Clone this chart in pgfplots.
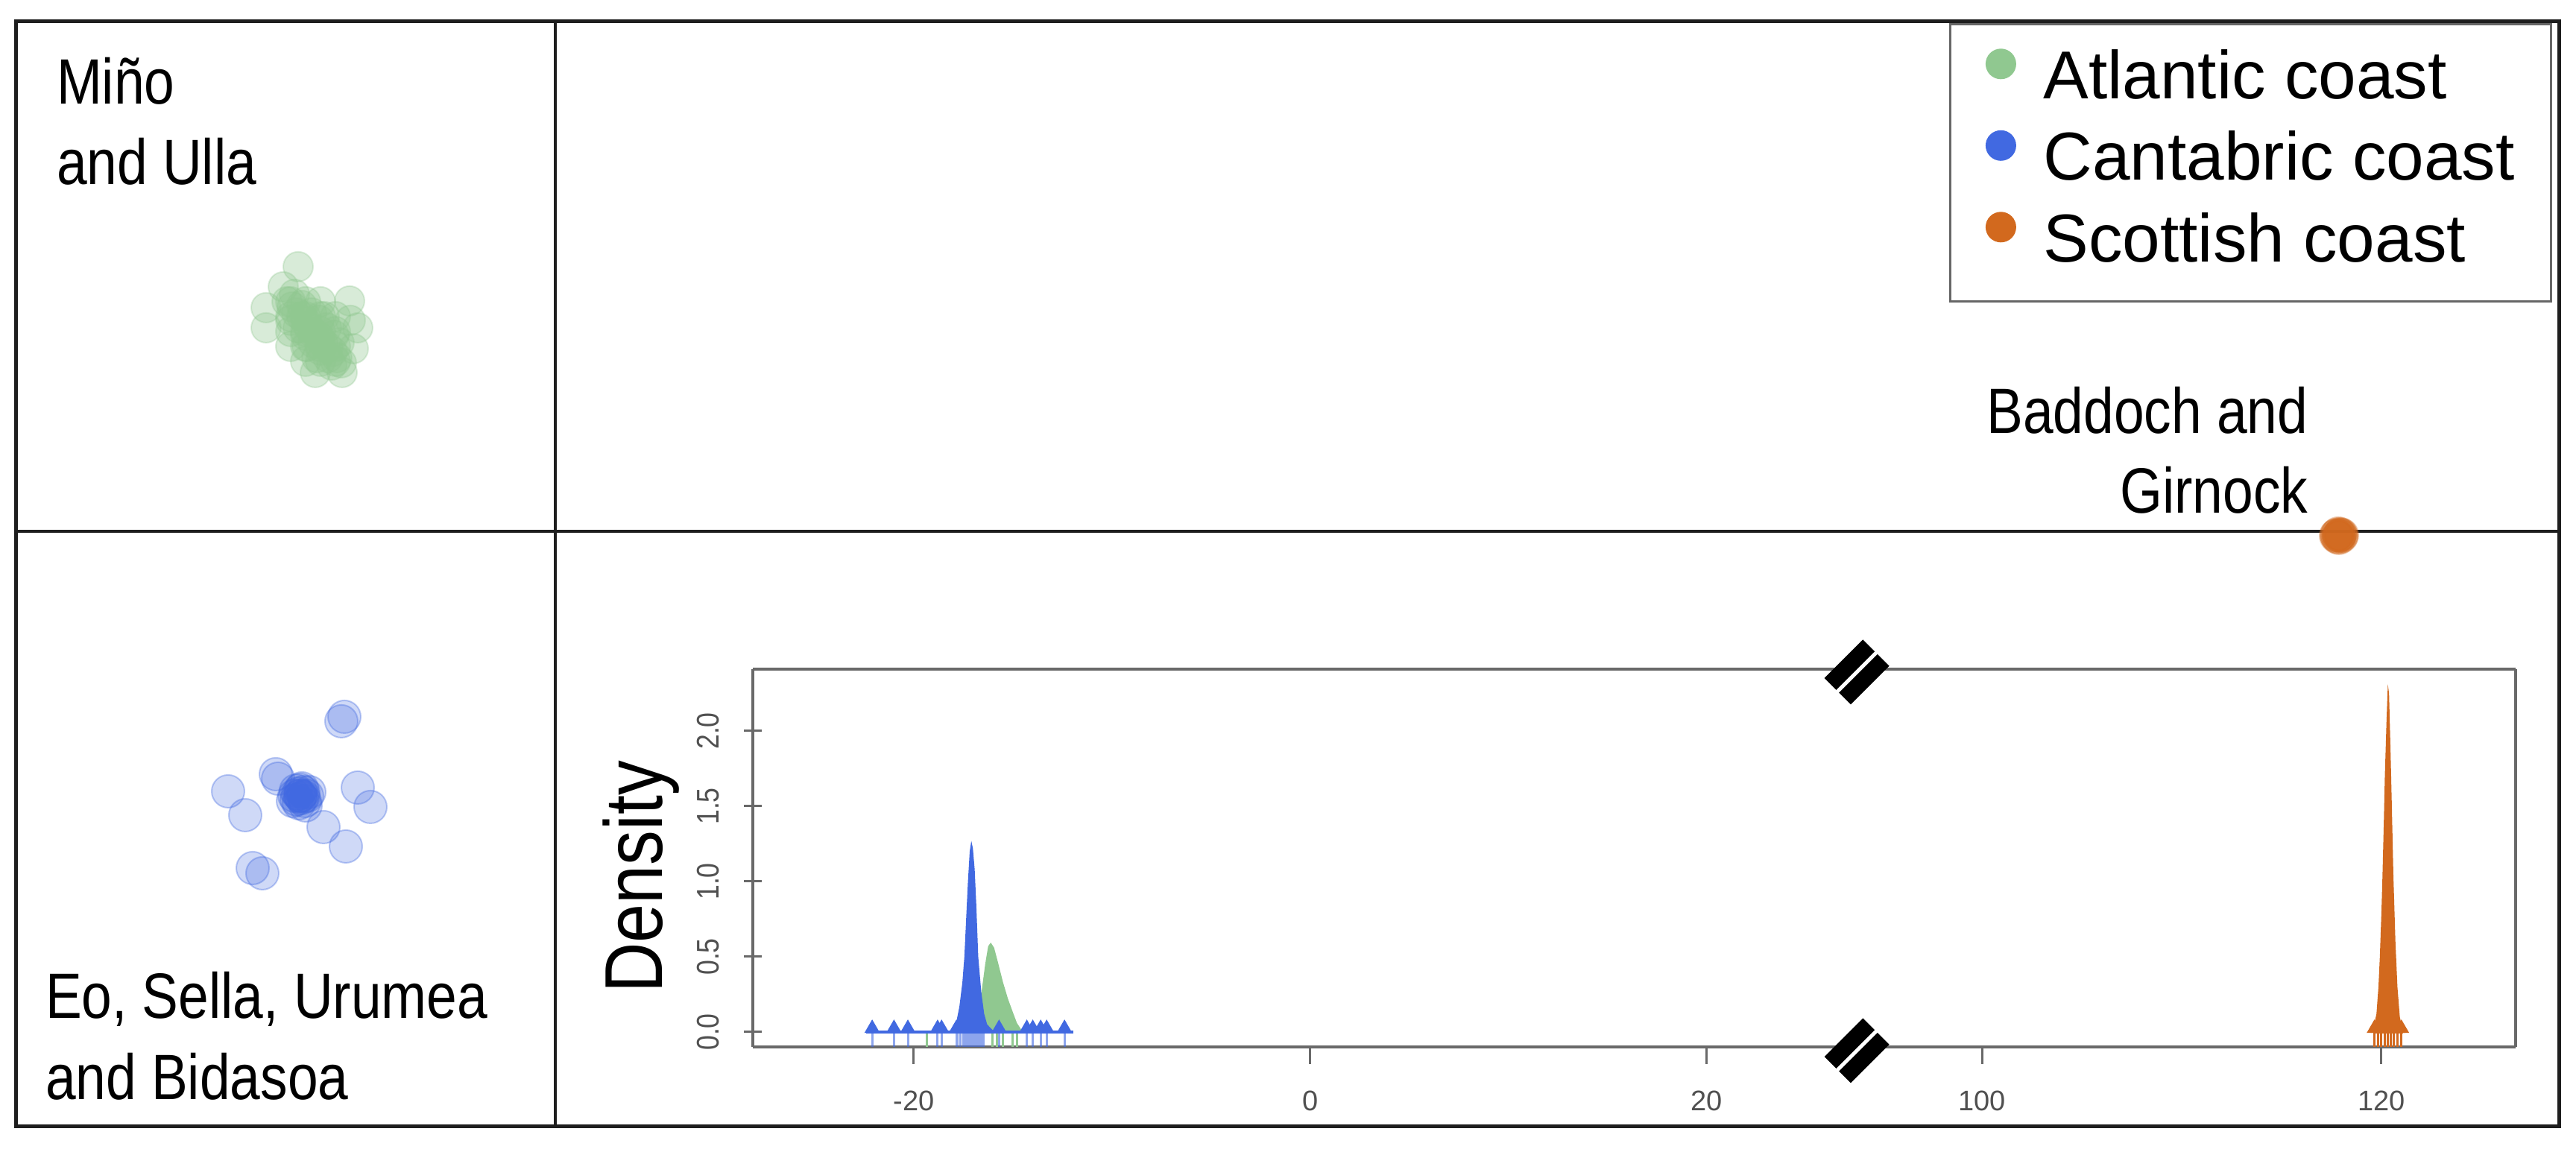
\documentclass[border=0pt]{standalone}
\usepackage{fontspec}
\setmainfont{Liberation Sans}
\newfontfamily\narrowfont{Liberation Sans}[FakeStretch=0.85]
\usepackage{pgfplots}
\usepackage{pgfplotstable}
\pgfplotsset{compat=1.18}
\definecolor{atl}{RGB}{144,200,144}
\definecolor{cant}{RGB}{65,105,225}
\definecolor{scot}{RGB}{210,105,30}
\definecolor{frame}{RGB}{30,30,30}
\definecolor{insetc}{RGB}{105,105,105}
\definecolor{ticklab}{RGB}{80,80,80}

% scatter (discriminant space)
\pgfplotstableread{
x y
-3.60 3.08
-3.53 3.01
-3.47 2.93
-3.40 2.88
-3.35 2.81
-3.30 2.73
-3.25 2.66
-3.17 2.61
-3.12 2.53
-3.05 2.47
-2.99 2.41
-2.93 2.33
-2.87 2.26
-3.45 2.73
-3.35 2.63
-3.25 2.53
-3.15 2.43
-3.05 2.33
-3.50 3.18
-3.40 3.03
-3.27 2.93
-3.17 2.83
-3.07 2.73
-2.97 2.63
-2.90 2.53
-3.55 2.83
-3.00 2.23
-3.20 2.33
-3.10 2.88
-3.33 2.48
-3.55 3.08
-3.55 2.88
-3.55 2.68
-3.55 2.48
-3.35 3.08
-3.35 2.88
-3.35 2.68
-3.35 2.48
-3.35 2.28
-3.15 3.08
-3.15 2.88
-3.15 2.68
-3.15 2.48
-3.15 2.28
-2.95 2.88
-2.95 2.68
-2.95 2.48
-2.95 2.28
-3.45 3.55
-3.88 3.00
-3.88 2.73
-2.76 3.09
-2.65 2.73
-2.71 2.45
-3.22 2.13
-2.86 2.13
-3.65 3.28
-2.75 2.83
}\atlpts
\pgfplotstableread{
x y
-3.42 -3.55
-3.45 -3.52
-3.40 -3.58
-3.38 -3.50
-3.47 -3.60
-3.42 -3.47
-3.36 -3.62
-3.50 -3.55
-3.33 -3.55
-3.44 -3.65
-3.40 -3.45
-3.48 -3.48
-3.35 -3.68
-3.30 -3.50
-3.52 -3.62
-3.42 -3.55
-3.38 -3.56
-3.75 -3.26
-3.72 -3.32
-2.83 -2.49
-2.87 -2.55
-4.39 -3.49
-4.16 -3.81
-2.65 -3.44
-2.48 -3.70
-3.11 -3.97
-2.81 -4.23
-4.06 -4.52
-3.93 -4.59
}\cantpts
\pgfplotstableread{
x y
23.93 -0.06
23.95 -0.04
23.91 -0.08
23.94 -0.05
23.92 -0.03
23.96 -0.07
23.90 -0.05
23.93 -0.09
23.97 -0.05
23.89 -0.06
}\scotpts

% densities
\pgfplotstableread{
x y
-17.3 0
-17.0 0.03
-16.8 0.10
-16.6 0.25
-16.4 0.45
-16.25 0.57
-16.12 0.594
-15.95 0.56
-15.75 0.46
-15.5 0.33
-15.25 0.22
-15.0 0.13
-14.8 0.06
-14.6 0.02
-14.4 0
}\atldens
\pgfplotstableread{
x y
-18.3 0
-18.0 0.02
-17.85 0.07
-17.7 0.17
-17.55 0.33
-17.45 0.50
-17.35 0.78
-17.27 1.00
-17.18 1.20
-17.10 1.27
-17.02 1.22
-16.93 1.08
-16.85 0.85
-16.75 0.50
-16.6 0.27
-16.45 0.12
-16.3 0.05
-16.0 0.01
-15.8 0
}\cantdens
\pgfplotstableread{
x y
119.5 0
119.6 0.03
119.75 0.12
119.85 0.30
119.92 0.50
120.0 0.80
120.05 1.03
120.12 1.40
120.17 1.70
120.25 2.05
120.32 2.31
120.38 2.25
120.45 1.90
120.52 1.50
120.6 1.03
120.7 0.60
120.8 0.30
120.92 0.10
121.05 0.02
121.2 0
}\scotdens

% rugs
\pgfplotstableread{
x y
-22.1 -0.099
-21.0 -0.099
-20.3 -0.099
-18.8 -0.099
-18.6 -0.099
-17.85 -0.099
-17.8 -0.099
-17.65 -0.099
-17.5 -0.099
-17.4 -0.099
-17.3 -0.099
-17.2 -0.099
-17.1 -0.099
-17.0 -0.099
-16.9 -0.099
-16.8 -0.099
-16.7 -0.099
-16.6 -0.099
-16.5 -0.099
-15.7 -0.099
-14.3 -0.099
-14.0 -0.099
-13.6 -0.099
-13.3 -0.099
-12.4 -0.099
}\cantrug
\pgfplotstableread{
x y
-19.35 -0.099
-16.03 -0.099
-15.8 -0.099
-15.5 -0.099
-15.0 -0.099
-14.8 -0.099
}\atlrug
\pgfplotstableread{
x y
119.65 -0.099
119.85 -0.099
120.0 -0.099
120.15 -0.099
120.3 -0.099
120.45 -0.099
120.6 -0.099
120.8 -0.099
121.0 -0.099
}\scotrug

\pgfplotsset{noarrows/.style={
  axis line style={-},
  x axis line style={-}, y axis line style={-},
  every non boxed x axis/.append style={x axis line style=-},
  every non boxed y axis/.append style={y axis line style=-},
  every inner x axis line/.append style={-},
  every inner y axis line/.append style={-},
  every outer x axis line/.append style={-},
  every outer y axis line/.append style={-},
}}

\begin{document}
\begin{tikzpicture}
\useasboundingbox (0pt,0pt) rectangle (345.6pt,154.6pt);
\fill[white] (0pt,0pt) rectangle (345.6pt,154.6pt);

% ---------- scatter of discriminant functions ----------
\begin{axis}[
  at={(2.1pt,3.4pt)}, anchor=south west, scale only axis,
  width=341.2pt, height=148.3pt,
  xmin=-7.24, xmax=26.88, ymin=-7.99, ymax=6.84,
  axis lines=middle, noarrows,
  axis line style={-, draw=frame, line width=0.45pt},
  xtick=\empty, ytick=\empty,
  legend style={
    at={(0.9974,0.9987)}, anchor=north east,
    draw=gray!80!black, line width=0.3pt, fill=white,
    font=\fontsize{9.1}{10.9}\selectfont,
    inner xsep=4.9pt, inner ysep=3.0pt,
    row sep=1.65pt, column sep=3.8pt,
    nodes={inner sep=0pt, text height=7pt, text depth=2.3pt},
  },
  legend cell align=left,
  legend image code/.code={\draw[#1] plot coordinates {(0pt,2.3pt)};},
]
\addplot[only marks, mark=*, mark size=2pt, color=atl,
  mark options={fill opacity=0.35, draw opacity=0.3, line width=0.2pt}, forget plot] table {\atlpts};
\addplot[only marks, mark=*, mark size=2.2pt, color=cant,
  mark options={fill opacity=0.25, draw opacity=0.35, line width=0.2pt}, forget plot] table {\cantpts};
\addplot[only marks, mark=*, mark size=2.2pt, color=scot,
  mark options={fill opacity=0.3, draw opacity=0.3, line width=0.2pt}, forget plot] table {\scotpts};
\addlegendimage{only marks, mark=*, mark size=1.9pt, color=atl}
\addlegendentry{Atlantic coast}
\addlegendimage{only marks, mark=*, mark size=1.9pt, color=cant}
\addlegendentry{Cantabric coast}
\addlegendimage{only marks, mark=*, mark size=1.9pt, color=scot}
\addlegendentry{Scottish coast}
\end{axis}

% ---------- inset density plot, broken x axis ----------
\pgfplotsset{insetstyle/.style={
  anchor=south west, scale only axis, height=50.7pt,
  ymin=-0.099, ymax=2.411,
  axis x line=bottom, noarrows,
  axis line style={-, draw=insetc, line width=0.4pt},
  tick align=outside, major tick length=2.3pt,
  tick style={draw=insetc, line width=0.3pt},
  xticklabel style={font=\fontsize{3.8}{4.5}\selectfont, text=ticklab, inner sep=0pt, anchor=north},
  xticklabel shift=3.4pt,
}}

\begin{axis}[insetstyle,
  at={(101pt,14.1pt)}, width=148pt,
  xmin=-28.12, xmax=27.52,
  axis y line=left, noarrows,
  xtick={-20,0,20}, xticklabels={-20,0,20},
  ytick={0,0.5,1,1.5,2}, yticklabels={0.0,0.5,1.0,1.5,2.0},
  yticklabel style={font=\narrowfont\fontsize{4.2}{5}\selectfont, text=ticklab, rotate=90, anchor=south, inner sep=0pt},
  yticklabel shift=3.2pt,
  ylabel={Density},
  every axis y label/.style={at={(rel axis cs:-0.0824,0.45)}, rotate=90, anchor=base,
     font=\narrowfont\fontsize{11}{12}\selectfont},
]
\addplot[fill=atl, draw=none] table {\atldens} \closedcycle;
\addplot[fill=cant, draw=none] table {\cantdens} \closedcycle;
\addplot[ycomb, draw=atl, line width=0.3pt, mark=none] table {\atlrug};
\addplot[ycomb, draw=cant, draw opacity=0.6, line width=0.3pt, mark=none] table {\cantrug};
\addplot[cant, line width=0.45pt] coordinates {(-22.4,0) (-11.95,0)};
\addplot[only marks, mark=triangle*, mark size=0.8pt, color=cant] table[y expr=0.024] {\cantrug};
\end{axis}

\begin{axis}[insetstyle,
  at={(249pt,14.1pt)}, width=88.5pt,
  xmin=93.69, xmax=126.72,
  axis y line=right, noarrows, ytick=\empty,
  xtick={100,120}, xticklabels={100,120},
]
\addplot[ycomb, draw=scot, line width=0.3pt, mark=none] table {\scotrug};
\addplot[fill=scot, draw=none] table {\scotdens} \closedcycle;
\addplot[scot, line width=0.45pt] coordinates {(119.6,0) (121.1,0)};
\addplot[only marks, mark=triangle*, mark size=0.8pt, color=scot] table[y expr=0.024] {\scotrug};
\end{axis}

\begin{scope}[x=0.1pt,y=0.1pt]
\draw[frame, line width=0.5pt] (21,34) rectangle (3433,1517);
\draw[insetc, line width=0.4pt] (1010,648) -- (3375,648);

% group labels
\begin{scope}[every node/.style={inner sep=0pt, font=\narrowfont\fontsize{8.6}{10}\selectfont}]
\node[anchor=base west] at (74,1406) {Miño};
\node[anchor=base west] at (74,1298) {and Ulla};
\node[anchor=base west] at (59,179) {Eo, Sella, Urumea};
\node[anchor=base west] at (59,70) {and Bidasoa};
\node[anchor=base east] at (3098,964) {Baddoch and};
\node[anchor=base east] at (3098,857) {Girnock};
\end{scope}

% axis break symbols
\foreach \yy in {644,136}{
  \begin{scope}[shift={(2491,\yy)}, rotate=45]
    \fill[black] (-36.5,-25) rectangle (36.5,25);
    \draw[white, line width=0.5pt] (-40,0) -- (40,0);
  \end{scope}
}
\end{scope}
\end{tikzpicture}
\end{document}
